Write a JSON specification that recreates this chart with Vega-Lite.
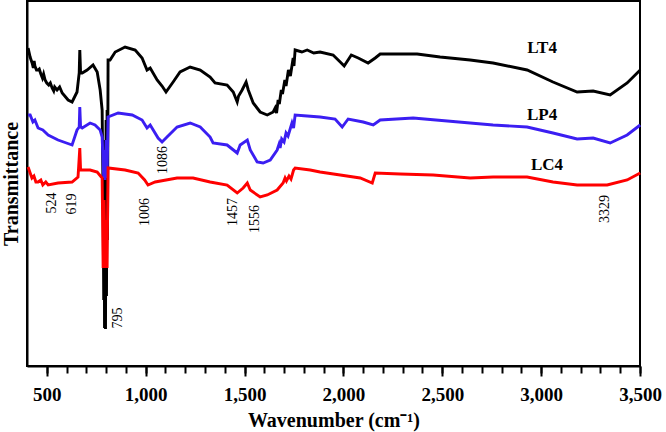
{
  "$schema": "https://vega.github.io/schema/vega-lite/v6.json",
  "width": 613,
  "height": 365,
  "autosize": {"type": "none"},
  "padding": {"left": 27, "top": 1, "right": 26, "bottom": 66},
  "background": "white",
  "config": {"view": {"stroke": "black", "strokeWidth": 2}},
  "datasets": {
    "spectra": [
      {"s":"LT4","w":405.6,"t":318},{"s":"LT4","w":415.7,"t":309},{"s":"LT4","w":425.8,"t":303},{"s":"LT4","w":432,"t":298},{"s":"LT4","w":436,"t":305},{"s":"LT4","w":440,"t":300},{"s":"LT4","w":448,"t":296},{"s":"LT4","w":456,"t":296},{"s":"LT4","w":462,"t":297},{"s":"LT4","w":470,"t":292},{"s":"LT4","w":478,"t":288},{"s":"LT4","w":484,"t":292},{"s":"LT4","w":491.5,"t":286},{"s":"LT4","w":500,"t":283},{"s":"LT4","w":510,"t":281},{"s":"LT4","w":518,"t":283},{"s":"LT4","w":527,"t":278},{"s":"LT4","w":535,"t":275},{"s":"LT4","w":540,"t":279},{"s":"LT4","w":552,"t":276},{"s":"LT4","w":565,"t":279},{"s":"LT4","w":578,"t":273},{"s":"LT4","w":608,"t":266},{"s":"LT4","w":628,"t":264},{"s":"LT4","w":653,"t":274},{"s":"LT4","w":664,"t":293},{"s":"LT4","w":667,"t":316},{"s":"LT4","w":671,"t":293},{"s":"LT4","w":679,"t":293},{"s":"LT4","w":704,"t":296},{"s":"LT4","w":734,"t":301},{"s":"LT4","w":755,"t":294},{"s":"LT4","w":770,"t":276},{"s":"LT4","w":780,"t":256},{"s":"LT4","w":785,"t":166},{"s":"LT4","w":788,"t":66},{"s":"LT4","w":790,"t":226},{"s":"LT4","w":792,"t":38},{"s":"LT4","w":795,"t":216},{"s":"LT4","w":797,"t":37},{"s":"LT4","w":800,"t":246},{"s":"LT4","w":802,"t":70},{"s":"LT4","w":805,"t":256},{"s":"LT4","w":807,"t":126},{"s":"LT4","w":810,"t":306},{"s":"LT4","w":820,"t":306},{"s":"LT4","w":846,"t":314},{"s":"LT4","w":896,"t":319},{"s":"LT4","w":947,"t":316},{"s":"LT4","w":982,"t":308},{"s":"LT4","w":1007,"t":296},{"s":"LT4","w":1023,"t":298},{"s":"LT4","w":1058,"t":286},{"s":"LT4","w":1083,"t":280},{"s":"LT4","w":1103,"t":274},{"s":"LT4","w":1139,"t":284},{"s":"LT4","w":1174,"t":294},{"s":"LT4","w":1225,"t":299},{"s":"LT4","w":1276,"t":296},{"s":"LT4","w":1326,"t":289},{"s":"LT4","w":1351,"t":283},{"s":"LT4","w":1412,"t":281},{"s":"LT4","w":1443,"t":274},{"s":"LT4","w":1463,"t":264},{"s":"LT4","w":1470,"t":270},{"s":"LT4","w":1488,"t":276},{"s":"LT4","w":1508,"t":284},{"s":"LT4","w":1519,"t":276},{"s":"LT4","w":1544,"t":263},{"s":"LT4","w":1579,"t":254},{"s":"LT4","w":1615,"t":251},{"s":"LT4","w":1645,"t":254},{"s":"LT4","w":1655,"t":258},{"s":"LT4","w":1662,"t":253},{"s":"LT4","w":1670,"t":266},{"s":"LT4","w":1676,"t":262},{"s":"LT4","w":1686,"t":276},{"s":"LT4","w":1692,"t":272},{"s":"LT4","w":1704,"t":286},{"s":"LT4","w":1710,"t":280},{"s":"LT4","w":1722,"t":296},{"s":"LT4","w":1732,"t":290},{"s":"LT4","w":1746,"t":308},{"s":"LT4","w":1750,"t":300},{"s":"LT4","w":1756,"t":316},{"s":"LT4","w":1790,"t":314},{"s":"LT4","w":1817,"t":316},{"s":"LT4","w":1850,"t":313},{"s":"LT4","w":1882,"t":314},{"s":"LT4","w":1948,"t":311},{"s":"LT4","w":1984,"t":304},{"s":"LT4","w":2004,"t":300},{"s":"LT4","w":2040,"t":311},{"s":"LT4","w":2075,"t":308},{"s":"LT4","w":2125,"t":303},{"s":"LT4","w":2161,"t":308},{"s":"LT4","w":2186,"t":312},{"s":"LT4","w":2287,"t":312},{"s":"LT4","w":2373,"t":312},{"s":"LT4","w":2489,"t":309},{"s":"LT4","w":2641,"t":306},{"s":"LT4","w":2757,"t":303},{"s":"LT4","w":2929,"t":296},{"s":"LT4","w":3060,"t":284},{"s":"LT4","w":3182,"t":274},{"s":"LT4","w":3263,"t":275},{"s":"LT4","w":3349,"t":271},{"s":"LT4","w":3435,"t":283},{"s":"LT4","w":3501,"t":296},

      {"s":"LP4","w":405.6,"t":251},{"s":"LP4","w":416,"t":251},{"s":"LP4","w":430,"t":244},{"s":"LP4","w":440,"t":246},{"s":"LP4","w":456,"t":238},{"s":"LP4","w":480,"t":236},{"s":"LP4","w":507,"t":231},{"s":"LP4","w":557,"t":226},{"s":"LP4","w":628,"t":221},{"s":"LP4","w":653,"t":236},{"s":"LP4","w":664,"t":239},{"s":"LP4","w":667,"t":259},{"s":"LP4","w":671,"t":239},{"s":"LP4","w":679,"t":238},{"s":"LP4","w":719,"t":243},{"s":"LP4","w":744,"t":241},{"s":"LP4","w":770,"t":236},{"s":"LP4","w":780,"t":229},{"s":"LP4","w":788,"t":188},{"s":"LP4","w":792,"t":216},{"s":"LP4","w":795,"t":186},{"s":"LP4","w":800,"t":226},{"s":"LP4","w":805,"t":188},{"s":"LP4","w":810,"t":249},{"s":"LP4","w":861,"t":253},{"s":"LP4","w":932,"t":251},{"s":"LP4","w":982,"t":246},{"s":"LP4","w":1007,"t":238},{"s":"LP4","w":1023,"t":241},{"s":"LP4","w":1063,"t":228},{"s":"LP4","w":1083,"t":224},{"s":"LP4","w":1108,"t":229},{"s":"LP4","w":1159,"t":239},{"s":"LP4","w":1225,"t":243},{"s":"LP4","w":1276,"t":239},{"s":"LP4","w":1326,"t":229},{"s":"LP4","w":1341,"t":223},{"s":"LP4","w":1412,"t":221},{"s":"LP4","w":1463,"t":213},{"s":"LP4","w":1478,"t":221},{"s":"LP4","w":1514,"t":226},{"s":"LP4","w":1529,"t":216},{"s":"LP4","w":1564,"t":204},{"s":"LP4","w":1594,"t":203},{"s":"LP4","w":1630,"t":206},{"s":"LP4","w":1665,"t":216},{"s":"LP4","w":1675,"t":222},{"s":"LP4","w":1680,"t":218},{"s":"LP4","w":1688,"t":227},{"s":"LP4","w":1700,"t":224},{"s":"LP4","w":1710,"t":233},{"s":"LP4","w":1720,"t":230},{"s":"LP4","w":1740,"t":243},{"s":"LP4","w":1748,"t":238},{"s":"LP4","w":1756,"t":251},{"s":"LP4","w":1817,"t":250},{"s":"LP4","w":1882,"t":249},{"s":"LP4","w":1958,"t":247},{"s":"LP4","w":1994,"t":239},{"s":"LP4","w":2024,"t":247},{"s":"LP4","w":2100,"t":244},{"s":"LP4","w":2151,"t":241},{"s":"LP4","w":2186,"t":246},{"s":"LP4","w":2353,"t":248},{"s":"LP4","w":2641,"t":243},{"s":"LP4","w":2757,"t":241},{"s":"LP4","w":2929,"t":239},{"s":"LP4","w":3060,"t":233},{"s":"LP4","w":3182,"t":227},{"s":"LP4","w":3263,"t":228},{"s":"LP4","w":3349,"t":223},{"s":"LP4","w":3435,"t":231},{"s":"LP4","w":3501,"t":241},

      {"s":"LC4","w":405.6,"t":199},{"s":"LC4","w":416,"t":193},{"s":"LC4","w":425,"t":188},{"s":"LC4","w":435,"t":190},{"s":"LC4","w":445,"t":184},{"s":"LC4","w":456,"t":184},{"s":"LC4","w":470,"t":186},{"s":"LC4","w":480,"t":181},{"s":"LC4","w":495,"t":184},{"s":"LC4","w":507,"t":181},{"s":"LC4","w":557,"t":183},{"s":"LC4","w":628,"t":184},{"s":"LC4","w":658,"t":189},{"s":"LC4","w":667,"t":218},{"s":"LC4","w":671,"t":196},{"s":"LC4","w":679,"t":196},{"s":"LC4","w":719,"t":196},{"s":"LC4","w":755,"t":194},{"s":"LC4","w":780,"t":188},{"s":"LC4","w":785,"t":98},{"s":"LC4","w":790,"t":166},{"s":"LC4","w":795,"t":98},{"s":"LC4","w":800,"t":146},{"s":"LC4","w":805,"t":98},{"s":"LC4","w":810,"t":198},{"s":"LC4","w":896,"t":196},{"s":"LC4","w":962,"t":193},{"s":"LC4","w":995,"t":186},{"s":"LC4","w":1012,"t":181},{"s":"LC4","w":1048,"t":184},{"s":"LC4","w":1159,"t":188},{"s":"LC4","w":1240,"t":188},{"s":"LC4","w":1326,"t":184},{"s":"LC4","w":1412,"t":181},{"s":"LC4","w":1463,"t":173},{"s":"LC4","w":1493,"t":178},{"s":"LC4","w":1514,"t":183},{"s":"LC4","w":1529,"t":176},{"s":"LC4","w":1579,"t":169},{"s":"LC4","w":1615,"t":171},{"s":"LC4","w":1665,"t":176},{"s":"LC4","w":1695,"t":183},{"s":"LC4","w":1705,"t":188},{"s":"LC4","w":1712,"t":185},{"s":"LC4","w":1725,"t":190},{"s":"LC4","w":1735,"t":187},{"s":"LC4","w":1741,"t":191},{"s":"LC4","w":1748,"t":196},{"s":"LC4","w":1756,"t":198},{"s":"LC4","w":1832,"t":196},{"s":"LC4","w":1882,"t":194},{"s":"LC4","w":1984,"t":191},{"s":"LC4","w":2085,"t":188},{"s":"LC4","w":2146,"t":183},{"s":"LC4","w":2161,"t":193},{"s":"LC4","w":2287,"t":192},{"s":"LC4","w":2454,"t":191},{"s":"LC4","w":2641,"t":188},{"s":"LC4","w":2757,"t":189},{"s":"LC4","w":2929,"t":189},{"s":"LC4","w":3060,"t":184},{"s":"LC4","w":3182,"t":181},{"s":"LC4","w":3334,"t":181},{"s":"LC4","w":3435,"t":186},{"s":"LC4","w":3501,"t":193}
    ],
    "names": [
      {"label":"LT4","w":3005,"t":318},
      {"label":"LP4","w":3005,"t":251},
      {"label":"LC4","w":3030,"t":201}
    ],
    "peaks": [
      {"label":"524","w":525,"t":163},
      {"label":"619","w":627,"t":162},
      {"label":"795","w":861,"t":48},
      {"label":"1006","w":997,"t":154},
      {"label":"1086","w":1088,"t":206},
      {"label":"1457","w":1443,"t":154},
      {"label":"1556","w":1554,"t":147},
      {"label":"3329","w":3325,"t":157}
    ],
    "ticks": [
      {"v":500},{"v":600},{"v":700},{"v":800},{"v":900},{"v":1000},{"v":1100},{"v":1200},{"v":1300},{"v":1400},{"v":1500},{"v":1600},{"v":1700},{"v":1800},{"v":1900},{"v":2000},{"v":2100},{"v":2200},{"v":2300},{"v":2400},{"v":2500},{"v":2600},{"v":2700},{"v":2800},{"v":2900},{"v":3000},{"v":3100},{"v":3200},{"v":3300},{"v":3400},{"v":3500}
    ]
  },
  "resolve": {"axis": {"x": "independent"}},
  "layer": [
    {
      "data": {"name": "spectra"},
      "transform": [{"filter": "datum.s === 'LT4'"}],
      "mark": {"type": "line", "color": "#000000", "strokeWidth": 2.9},
      "encoding": {
        "x": {"field": "w", "type": "quantitative",
          "scale": {"domain": [400, 3500], "nice": false, "zero": false},
          "axis": {"orient": "bottom", "values": [500,1000,1500,2000,2500,3000,3500],
            "labelExpr": "format(datum.value, ',')",
            "tickSize": 10, "tickWidth": 2, "tickColor": "black", "domainWidth": 2, "domainColor": "black",
            "labelFont": "Liberation Serif", "labelFontWeight": "bold", "labelFontSize": 19, "labelColor": "black",
            "labelPadding": 9, "labelFlush": false, "labelOverlap": false, "grid": false,
            "title": "Wavenumber (cm⁻¹)", "titleFont": "Liberation Serif", "titleFontSize": 20,
            "titleFontWeight": "bold", "titleColor": "black", "titlePadding": 6}},
        "y": {"field": "t", "type": "quantitative",
          "scale": {"domain": [0, 365], "nice": false, "zero": false},
          "axis": {"title": "Transmittance", "titleFont": "Liberation Serif", "titleFontSize": 20,
            "titleFontWeight": "bold", "titleColor": "black", "titlePadding": 6,
            "labels": false, "ticks": false, "grid": false, "domainWidth": 2, "domainColor": "black"}}
      }
    },
    {
      "data": {"name": "spectra"},
      "transform": [{"filter": "datum.s === 'LP4'"}],
      "mark": {"type": "line", "color": "#3b1ef2", "strokeWidth": 2.9},
      "encoding": {
        "x": {"field": "w", "type": "quantitative", "scale": {"domain": [400, 3500], "nice": false, "zero": false}, "axis": null},
        "y": {"field": "t", "type": "quantitative", "scale": {"domain": [0, 365], "nice": false, "zero": false}}
      }
    },
    {
      "data": {"name": "spectra"},
      "transform": [{"filter": "datum.s === 'LC4'"}],
      "mark": {"type": "line", "color": "#ff0000", "strokeWidth": 2.9},
      "encoding": {
        "x": {"field": "w", "type": "quantitative", "scale": {"domain": [400, 3500], "nice": false, "zero": false}, "axis": null},
        "y": {"field": "t", "type": "quantitative", "scale": {"domain": [0, 365], "nice": false, "zero": false}}
      }
    },
    {
      "data": {"name": "names"},
      "mark": {"type": "text", "font": "Liberation Serif", "fontWeight": "bold", "fontSize": 17, "color": "black", "align": "center", "baseline": "middle"},
      "encoding": {
        "x": {"field": "w", "type": "quantitative", "scale": {"domain": [400, 3500], "nice": false, "zero": false}, "axis": null},
        "y": {"field": "t", "type": "quantitative", "scale": {"domain": [0, 365], "nice": false, "zero": false}},
        "text": {"field": "label"}
      }
    },
    {
      "data": {"name": "peaks"},
      "mark": {"type": "text", "font": "Liberation Serif", "fontSize": 14, "color": "black", "align": "center", "baseline": "middle", "angle": 270},
      "encoding": {
        "x": {"field": "w", "type": "quantitative", "scale": {"domain": [400, 3500], "nice": false, "zero": false}, "axis": null},
        "y": {"field": "t", "type": "quantitative", "scale": {"domain": [0, 365], "nice": false, "zero": false}},
        "text": {"field": "label"}
      }
    },
    {
      "data": {"name": "ticks"},
      "mark": {"type": "point", "opacity": 0},
      "encoding": {
        "x": {"field": "v", "type": "quantitative", "scale": {"domain": [400, 3500], "nice": false, "zero": false},
          "axis": {"orient": "bottom", "values": [500,600,700,800,900,1000,1100,1200,1300,1400,1500,1600,1700,1800,1900,2000,2100,2200,2300,2400,2500,2600,2700,2800,2900,3000,3100,3200,3300,3400,3500],
            "tickSize": 7, "tickWidth": 2, "tickColor": "black", "labels": false, "domain": false, "grid": false, "title": null}},
        "y": {"datum": 0, "type": "quantitative", "scale": {"domain": [0, 365], "nice": false, "zero": false}}
      }
    }
  ]
}
